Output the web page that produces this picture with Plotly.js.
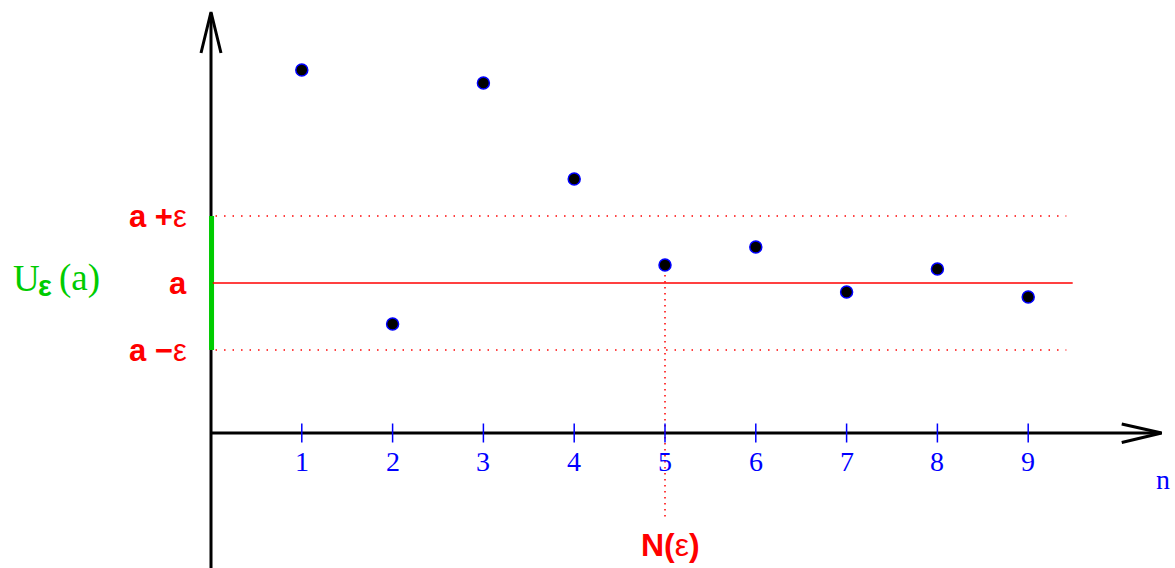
<!DOCTYPE html>
<html>
<head>
<meta charset="utf-8">
<script src="https://cdn.plot.ly/plotly-3.0.1.min.js"></script>
<style>html,body{margin:0;padding:0;background:#fff;}#chart{width:1175px;height:568px;}</style>
</head>
<body>
<div id="chart"></div>
<script>
// ---- data ----
const nValues = [1, 2, 3, 4, 5, 6, 7, 8, 9];
const seqValues = [3.63, 1.09, 3.50, 2.54, 1.68, 1.86, 1.41, 1.64, 1.36];
const tickLabels = ['1', '2', '3', '4', '5', '6', '7', '8', '9'];
const aValue = 1.50;
const epsValue = 0.67;
const nEps = 5;

// ---- frame geometry ----
const xMin = -2.3238, xMax = 10.6167;
const yMin = -1.35, yMax = 4.33;
const lineEnd = 9.49;

const red = '#ff0000', blue = '#0000ff', green = '#00cc00';

const shapes = [];
// y axis
shapes.push({type: 'line', xref: 'x', yref: 'y', x0: 0, x1: 0, y0: yMin, y1: 4.2, line: {color: '#000', width: 3}});
// x axis
shapes.push({type: 'line', xref: 'x', yref: 'y', x0: 0, x1: 10.46, y0: 0, y1: 0, line: {color: '#000', width: 3}});
// arrowheads
shapes.push({type: 'path', xref: 'x', yref: 'y', path: 'M -0.11 3.80 L 0 4.21 L 0.11 3.80', line: {color: '#000', width: 3}});
shapes.push({type: 'path', xref: 'x', yref: 'y', path: 'M 10.03 0.09 L 10.47 0 L 10.03 -0.095', line: {color: '#000', width: 3}});
// green neighbourhood bar (on top of axis)
shapes.push({type: 'line', xref: 'x', yref: 'y', x0: 0.006, x1: 0.006, y0: aValue - epsValue, y1: aValue + epsValue,
  line: {color: green, width: 5}});
// a line
shapes.push({type: 'line', xref: 'x', yref: 'y', x0: 0.02, x1: lineEnd, y0: aValue, y1: aValue, line: {color: red, width: 1.3}});
// a +/- eps dotted
[aValue + epsValue, aValue - epsValue].forEach(v => {
  shapes.push({type: 'line', xref: 'x', yref: 'y', x0: 0.05, x1: 9.42, y0: v, y1: v,
    line: {color: red, width: 1.5, dash: '1.5px,7px'}});
});
// vertical dotted at N(eps)
shapes.push({type: 'line', xref: 'x', yref: 'y', x0: nEps, x1: nEps, y0: seqValues[nEps - 1] - 0.1, y1: -0.84,
  line: {color: red, width: 1.5, dash: '1.5px,4.5px'}});
// tick marks
nValues.forEach(n => {
  shapes.push({type: 'line', xref: 'x', yref: 'y', x0: n, x1: n, y0: -0.095, y1: 0.095, line: {color: blue, width: 1.5}});
});

const sans = 'Liberation Sans, Arial, sans-serif';
const serif = 'Liberation Serif, serif';
const annotations = [];
nValues.forEach((n, i) => {
  annotations.push({x: n, y: -0.28, xref: 'x', yref: 'y', text: tickLabels[i], showarrow: false,
    font: {family: serif, size: 28, color: blue}, xanchor: 'center', yanchor: 'middle'});
});
annotations.push({x: 10.48, y: -0.46, xref: 'x', yref: 'y', text: 'n', showarrow: false,
  font: {family: serif, size: 28, color: blue}, xanchor: 'center', yanchor: 'middle'});
annotations.push({x: nEps + 0.06, y: -1.12, xref: 'x', yref: 'y', text: '<b>N(</b>ε<b>)</b>', showarrow: false,
  font: {family: sans, size: 32, color: red}, xanchor: 'center', yanchor: 'middle'});
annotations.push({x: -0.24, y: aValue + epsValue, xref: 'x', yref: 'y', text: '<b>a +</b>ε', showarrow: false,
  font: {family: sans, size: 31, color: red}, xanchor: 'right', yanchor: 'middle'});
annotations.push({x: -0.24, y: aValue, xref: 'x', yref: 'y', text: '<b>a</b>', showarrow: false,
  font: {family: sans, size: 31, color: red}, xanchor: 'right', yanchor: 'middle'});
annotations.push({x: -0.24, y: aValue - epsValue, xref: 'x', yref: 'y', text: '<b>a −</b>ε', showarrow: false,
  font: {family: sans, size: 31, color: red}, xanchor: 'right', yanchor: 'middle'});
// U_eps(a) built from three pieces
annotations.push({x: -2.20, y: 1.55, xref: 'x', yref: 'y', text: 'U', showarrow: false,
  font: {family: serif, size: 37, color: green}, xanchor: 'left', yanchor: 'middle'});
annotations.push({x: -1.93, y: 1.47, xref: 'x', yref: 'y', text: '<b>ε</b>', showarrow: false,
  font: {family: sans, size: 29, color: green}, xanchor: 'left', yanchor: 'middle'});
annotations.push({x: -1.70, y: 1.55, xref: 'x', yref: 'y', text: '(a)', showarrow: false,
  font: {family: serif, size: 37, color: green}, xanchor: 'left', yanchor: 'middle'});

const trace = {
  x: nValues, y: seqValues, type: 'scatter', mode: 'markers',
  marker: {size: 12, color: '#000', line: {color: blue, width: 1.5}},
  hoverinfo: 'skip', cliponaxis: false
};

const layout = {
  width: 1175, height: 568,
  margin: {l: 0, r: 0, t: 0, b: 0, pad: 0},
  paper_bgcolor: '#fff', plot_bgcolor: '#fff',
  showlegend: false,
  xaxis: {range: [xMin, xMax], visible: false, fixedrange: true},
  yaxis: {range: [yMin, yMax], visible: false, fixedrange: true},
  shapes: shapes,
  annotations: annotations
};

Plotly.newPlot('chart', [trace], layout, {staticPlot: true, displayModeBar: false});
</script>
</body>
</html>
